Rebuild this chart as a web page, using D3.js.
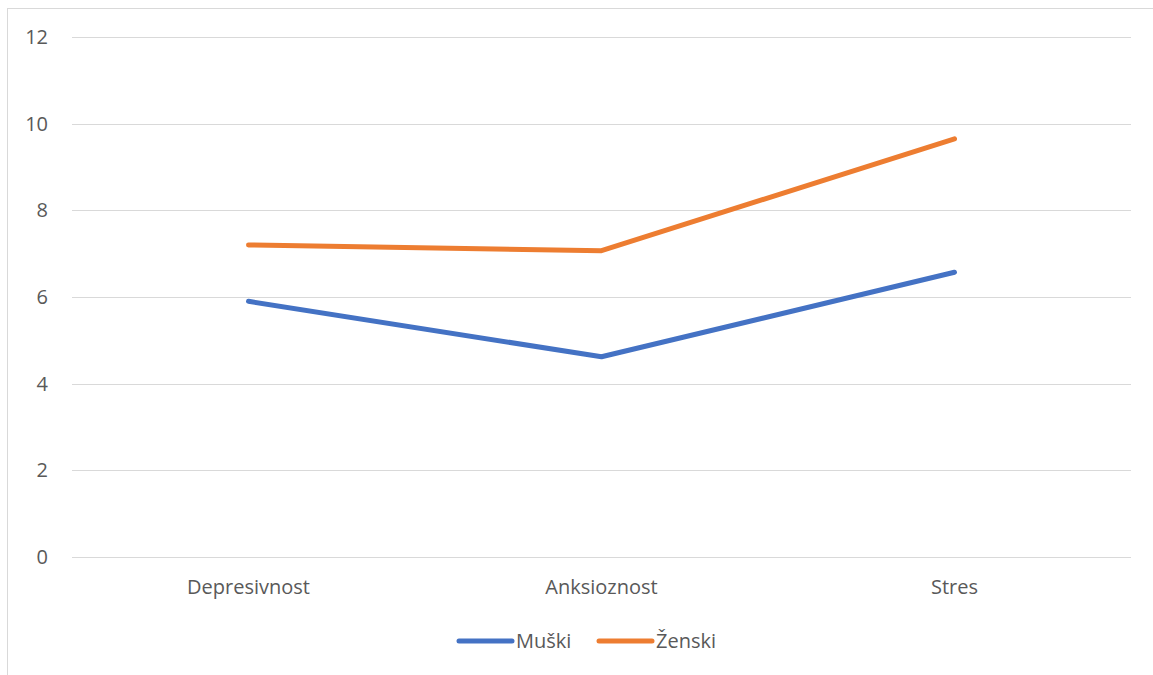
<!doctype html>
<html>
<head>
    <meta charset="utf-8">
    <title>Depresivnost, anksioznost, stres</title>
    <script src="https://cdn.jsdelivr.net/npm/d3@7"></script>
    <style>
        body { margin: 0; background: #fff; }
        svg { display: block; }
        text { font-family: "Open Sans", "Noto Sans", sans-serif; fill: #595959; }
        .axis path { display: none; }
        .axis line { stroke: #d9d9d9; shape-rendering: crispEdges; }
    </style>
</head>
<body>
<script>
    "use strict";

    const categories = ["Depresivnost", "Anksioznost", "Stres"];
    const muski = [5.9, 4.62, 6.57];
    const zenski = [7.2, 7.07, 9.65];
    const yTicks = [0, 2, 4, 6, 8, 10, 12];
    const series = [
        { name: "Muški", values: muski, color: "#4472c4" },
        { name: "Ženski", values: zenski, color: "#ed7d31" }
    ];

    const width = 1153, height = 675;
    const margin = { top: 37, right: 22, bottom: 118, left: 72 };
    const fontSize = 20;

    const svg = d3.select("body").append("svg")
        .attr("width", width)
        .attr("height", height);

    // chart area border
    svg.append("rect")
        .attr("x", 7.5).attr("y", 8.5)
        .attr("width", 1160).attr("height", 700)
        .attr("fill", "none")
        .attr("stroke", "#d9d9d9");

    const x = d3.scaleBand()
        .domain(categories)
        .range([margin.left, width - margin.right]);

    const y = d3.scaleLinear()
        .domain([0, 12])
        .range([height - margin.bottom, margin.top]);

    svg.append("g")
        .attr("class", "axis")
        .attr("transform", `translate(${margin.left},0)`)
        .call(d3.axisLeft(y).tickValues(yTicks)
            .tickSize(-(width - margin.left - margin.right)).tickPadding(24))
        .call(g => g.selectAll("text").attr("font-size", fontSize).attr("fill", "#595959"));

    svg.append("g")
        .attr("class", "axis")
        .attr("transform", `translate(0,${height - margin.bottom})`)
        .call(d3.axisBottom(x).tickSize(0).tickPadding(23))
        .call(g => g.selectAll("text").attr("font-size", fontSize).attr("fill", "#595959"));

    const line = d3.line()
        .x((d, i) => x(categories[i]) + x.bandwidth() / 2)
        .y(d => y(d));

    svg.selectAll(".series")
        .data(series)
        .join("path")
        .attr("class", "series")
        .attr("fill", "none")
        .attr("stroke", d => d.color)
        .attr("stroke-width", 5)
        .attr("stroke-linejoin", "round")
        .attr("stroke-linecap", "round")
        .attr("d", d => line(d.values));

    // legend
    const legend = svg.append("g");
    const lx = [459, 599];
    series.forEach((s, i) => {
        legend.append("line")
            .attr("x1", lx[i]).attr("x2", lx[i] + 53)
            .attr("y1", 641).attr("y2", 641)
            .attr("stroke", s.color)
            .attr("stroke-width", 5)
            .attr("stroke-linecap", "round");
        legend.append("text")
            .attr("x", lx[i] + 57).attr("y", 648)
            .attr("font-size", fontSize)
            .text(s.name);
    });
</script>
</body>
</html>
